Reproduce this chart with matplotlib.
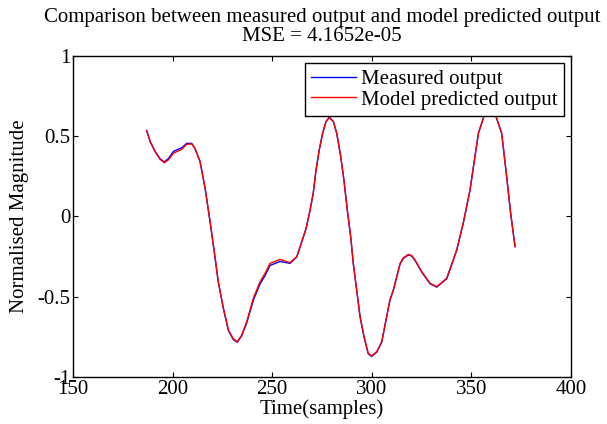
import numpy as np
import matplotlib.pyplot as plt

plt.rcParams['font.family'] = ['Liberation Serif', 'DejaVu Serif']

# samples (time axis)
SAMPLES = np.array([187.0, 188.7, 191.2, 193.7, 195.8, 197.8, 200.4, 202.1, 204.6, 207.1,
                    209.6, 211.2, 213.8, 216.3, 218.8, 220.9, 222.9, 225.5, 228.0, 230.5,
                    232.5, 234.7, 237.2, 240.5, 243.9, 246.4, 248.9, 253.9, 258.9, 262.3,
                    264.0, 267.0, 269.0, 270.6, 272.0, 273.6, 275.3, 277.0, 278.7, 280.7,
                    282.4, 284.4, 286.0, 287.7, 289.4, 290.7, 292.4, 294.1, 296.1, 298.2,
                    299.9, 302.5, 305.0, 307.1, 309.1, 310.8, 314.2, 315.8, 318.3, 320.0,
                    321.7, 325.1, 329.2, 332.6, 337.6, 342.6, 345.9, 349.3, 353.5, 356.8,
                    358.5, 359.8, 360.8, 361.8, 365.2, 367.7, 369.7, 371.9])

# model predicted output
PREDIT = np.array([0.535, 0.466, 0.404, 0.356, 0.335, 0.352, 0.394, 0.404, 0.419, 0.450,
                   0.452, 0.425, 0.341, 0.176, -0.032, -0.219, -0.406, -0.572, -0.707, -0.763,
                   -0.780, -0.738, -0.655, -0.510, -0.406, -0.354, -0.292, -0.267, -0.288, -0.250,
                   -0.188, -0.074, 0.040, 0.145, 0.290, 0.414, 0.518, 0.591, 0.618, 0.591,
                   0.518, 0.373, 0.227, 0.040, -0.126, -0.292, -0.458, -0.624, -0.749, -0.852,
                   -0.869, -0.842, -0.780, -0.645, -0.520, -0.458, -0.292, -0.258, -0.236, -0.243,
                   -0.271, -0.344, -0.416, -0.437, -0.385, -0.209, -0.042, 0.165, 0.518, 0.643,
                   0.700, 0.726, 0.700, 0.643, 0.518, 0.248, 0.020, -0.188])

# measured output (nearly the same)
MESURE = np.array([0.535, 0.468, 0.406, 0.360, 0.340, 0.360, 0.405, 0.415, 0.428, 0.456,
                   0.455, 0.425, 0.341, 0.176, -0.032, -0.219, -0.406, -0.574, -0.710, -0.767,
                   -0.784, -0.742, -0.663, -0.522, -0.420, -0.368, -0.305, -0.280, -0.292, -0.253,
                   -0.190, -0.076, 0.040, 0.145, 0.290, 0.414, 0.518, 0.591, 0.618, 0.591,
                   0.518, 0.373, 0.227, 0.040, -0.126, -0.292, -0.458, -0.624, -0.751, -0.855,
                   -0.872, -0.845, -0.782, -0.647, -0.522, -0.460, -0.295, -0.262, -0.240, -0.246,
                   -0.274, -0.347, -0.419, -0.440, -0.388, -0.211, -0.042, 0.165, 0.518, 0.643,
                   0.700, 0.726, 0.700, 0.643, 0.518, 0.248, 0.020, -0.188])

MSE = 4.1652e-05

fig = plt.figure(figsize=(6.07, 4.24), dpi=100)
ax = fig.add_axes([0.1203, 0.1108, 0.8204, 0.7572])

ax.plot(SAMPLES, MESURE, color='blue', lw=1.0, label='Measured output')
ax.plot(SAMPLES, PREDIT, color='red', lw=1.0, label='Model predicted output')

ax.set_xlim(150, 400)
ax.set_ylim(-1, 1)
ax.set_xticks([150, 200, 250, 300, 350, 400])
ax.set_yticks([-1, -0.5, 0, 0.5, 1])
ax.set_yticklabels(['-1', '-0.5', '0', '0.5', '1'])
ax.tick_params(direction='in', top=True, right=True, length=3.5, width=0.8,
               labelsize=15, pad=2)
for s in ax.spines.values():
    s.set_linewidth(1.0)

ax.set_title('Comparison between measured output and model predicted output\nMSE = %.4e' % MSE,
             fontsize=15, linespacing=0.95, pad=11)
ax.set_xlabel('Time(samples)', fontsize=15, labelpad=0)
ax.set_ylabel('Normalised Magnitude', fontsize=15, labelpad=6)

leg = ax.legend(loc='upper right', fontsize=15, frameon=True, fancybox=False,
                edgecolor='black', framealpha=1, borderaxespad=0.35,
                handlelength=2.15, handletextpad=0.25, labelspacing=0.05, borderpad=0.3)
leg.get_frame().set_linewidth(1.0)

fig.savefig('out.png', dpi=100)
